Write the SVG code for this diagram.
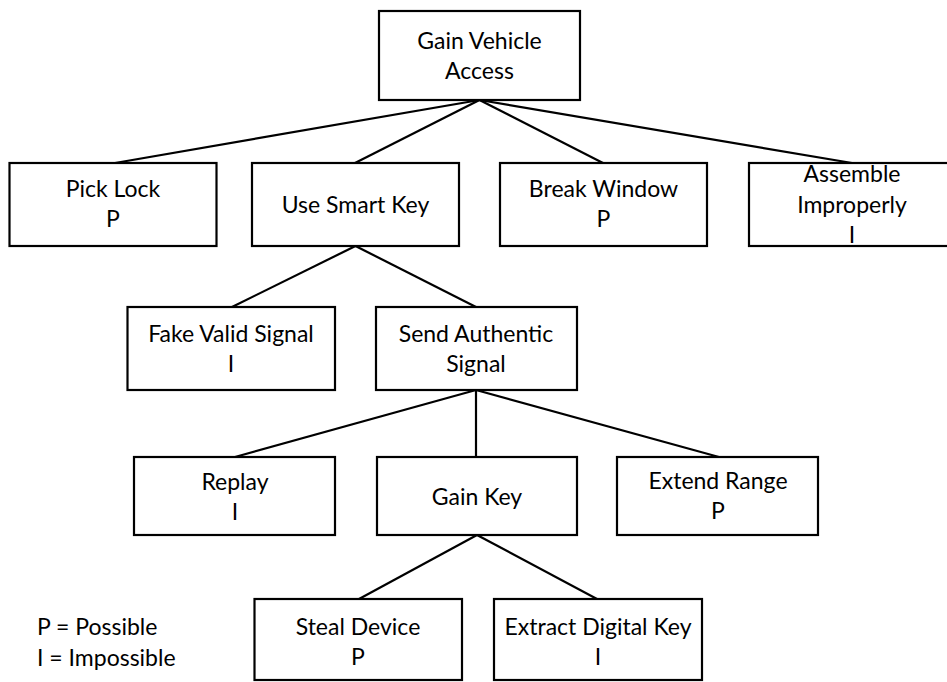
<svg xmlns="http://www.w3.org/2000/svg" width="947" height="682" viewBox="0 0 947 682">
  <style>
    .box { fill: #ffffff; stroke: #000000; stroke-width: 2.2; }
    .lbl { font-family: Lato, "Open Sans", "Liberation Sans", sans-serif; font-size: 23px; fill: #000000; text-anchor: middle; }
    .key { font-family: Lato, "Open Sans", "Liberation Sans", sans-serif; font-size: 23px; fill: #000000; }
    .link { stroke: #000000; stroke-width: 2.2; fill: none; }
  </style>
  <rect width="947" height="682" fill="#ffffff"/>

  <!-- tree edges -->
  <g id="connectors">
    <line class="link" x1="479.5" y1="100" x2="115" y2="163"/>
    <line class="link" x1="479.5" y1="100" x2="355" y2="163"/>
    <line class="link" x1="479.5" y1="100" x2="603" y2="163"/>
    <line class="link" x1="479.5" y1="100" x2="852" y2="163"/>
    <line class="link" x1="355.5" y1="246" x2="232" y2="307"/>
    <line class="link" x1="355.5" y1="246" x2="476" y2="307"/>
    <line class="link" x1="476" y1="390" x2="235" y2="457"/>
    <line class="link" x1="476" y1="390" x2="476" y2="457"/>
    <line class="link" x1="476" y1="390" x2="719" y2="457"/>
    <line class="link" x1="477" y1="535" x2="359" y2="599"/>
    <line class="link" x1="477" y1="535" x2="597" y2="599"/>
  </g>

  <g id="gain-vehicle-access">
    <rect class="box" x="379" y="11" width="201" height="89"/>
    <text class="lbl" x="479.5" y="49">Gain Vehicle</text>
    <text class="lbl" x="479.5" y="79">Access</text>
  </g>

  <g id="pick-lock">
    <rect class="box" x="9.5" y="163" width="207" height="83"/>
    <text class="lbl" x="113" y="197">Pick Lock</text>
    <text class="lbl" x="113" y="227">P</text>
  </g>
  <g id="use-smart-key">
    <rect class="box" x="252" y="163" width="207" height="83"/>
    <text class="lbl" x="355.5" y="213">Use Smart Key</text>
  </g>
  <g id="break-window">
    <rect class="box" x="500" y="163" width="207" height="83"/>
    <text class="lbl" x="603.5" y="197">Break Window</text>
    <text class="lbl" x="603.5" y="227">P</text>
  </g>
  <g id="assemble-improperly">
    <rect class="box" x="749" y="163" width="207" height="83"/>
    <text class="lbl" x="852" y="182">Assemble</text>
    <text class="lbl" x="852" y="213">Improperly</text>
    <text class="lbl" x="852" y="243">I</text>
  </g>

  <g id="fake-valid-signal">
    <rect class="box" x="127.5" y="307" width="207.5" height="83"/>
    <text class="lbl" x="231" y="342">Fake Valid Signal</text>
    <text class="lbl" x="231" y="372">I</text>
  </g>
  <g id="send-authentic-signal">
    <rect class="box" x="376" y="307" width="201" height="83"/>
    <text class="lbl" x="476" y="342">Send Authentic</text>
    <text class="lbl" x="476" y="372">Signal</text>
  </g>

  <g id="replay">
    <rect class="box" x="134" y="457" width="201" height="78"/>
    <text class="lbl" x="235" y="490">Replay</text>
    <text class="lbl" x="235" y="520">I</text>
  </g>
  <g id="gain-key">
    <rect class="box" x="377" y="457" width="200" height="78"/>
    <text class="lbl" x="477" y="505">Gain Key</text>
  </g>
  <g id="extend-range">
    <rect class="box" x="617" y="457" width="201" height="78"/>
    <text class="lbl" x="718" y="489">Extend Range</text>
    <text class="lbl" x="718" y="519">P</text>
  </g>

  <g id="steal-device">
    <rect class="box" x="254.5" y="599" width="207.5" height="81"/>
    <text class="lbl" x="358" y="635">Steal Device</text>
    <text class="lbl" x="358" y="665">P</text>
  </g>
  <g id="extract-digital-key">
    <rect class="box" x="494" y="599" width="208" height="81"/>
    <text class="lbl" x="598" y="635">Extract Digital Key</text>
    <text class="lbl" x="598" y="665">I</text>
  </g>

  <g id="legend">
    <text class="key" x="37" y="635">P = Possible</text>
    <text class="key" x="37" y="666">I = Impossible</text>
  </g>
</svg>
